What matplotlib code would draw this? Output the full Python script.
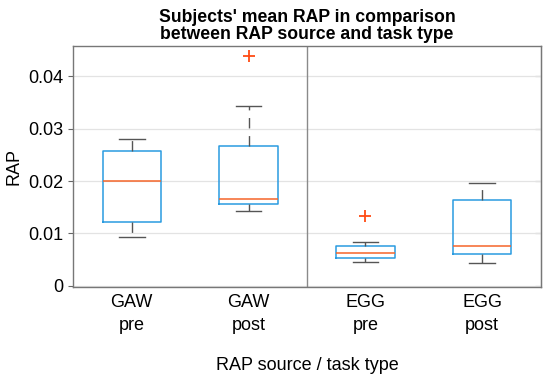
import matplotlib
matplotlib.use("Agg")
import matplotlib.pyplot as plt

plt.rcParams.update({"font.family": ["Liberation Sans", "DejaVu Sans"], "font.size": 13})

labels = ["GAW\npre", "GAW\npost", "EGG\npre", "EGG\npost"]
whis_low = [0.00926, 0.01436, 0.00448, 0.00429]
q1 = [0.01219, 0.01558, 0.00530, 0.00607]
medians = [0.0200, 0.01654, 0.00626, 0.00754]
q3 = [0.02572, 0.02668, 0.00766, 0.01646]
whis_high = [0.0280, 0.03426, 0.0083, 0.01966]
outliers = [[], [0.04383], [0.0134], []]
yticks = [0, 0.01, 0.02, 0.03, 0.04]
ytick_labels = ["0", "0.01", "0.02", "0.03", "0.04"]

stats = []
for i, lab in enumerate(labels):
    stats.append(dict(label=lab, whislo=whis_low[i], q1=q1[i], med=medians[i],
                      q3=q3[i], whishi=whis_high[i], fliers=outliers[i]))

fig = plt.figure(figsize=(5.5, 3.74), dpi=100)
ax = fig.add_axes([0.1333, 0.2334, 0.8497, 0.6446])

ax.grid(axis="y", color="#e3e3e3", linewidth=0.9)
ax.set_axisbelow(True)
ax.axvline(2.5, color="#8a8a8a", linewidth=1.0)

ax.bxp(stats, positions=[1, 2, 3, 4], widths=0.5, capwidths=0.22,
       boxprops=dict(color="#2a9be0", linewidth=1.1),
       medianprops=dict(color="#f5652a", linewidth=1.1),
       whiskerprops=dict(color="#555555", linewidth=1.0, linestyle=(0, (7.5, 5.5))),
       capprops=dict(color="#555555", linewidth=1.0),
       flierprops=dict(marker="+", markeredgecolor="#ff4b14", markersize=9,
                       markeredgewidth=1.3, linestyle="none"))

ax.set_xlim(0.5, 4.5)
ax.set_ylim(-0.0002, 0.0459)
ax.set_yticks(yticks)
ax.set_yticklabels(ytick_labels)
ax.tick_params(axis="y", direction="out", length=3.5, color="#666666", pad=4)
ax.tick_params(axis="x", length=0, pad=5)
for lab in ax.get_xticklabels():
    lab.set_linespacing(1.45)
for sp in ax.spines.values():
    sp.set_color("#777777")
    sp.set_linewidth(1.0)

# inward ticks on the right side, no labels
right = ax.secondary_yaxis("right")
right.set_yticks(yticks)
right.tick_params(direction="in", length=4, color="#666666", labelright=False)
right.spines["right"].set_color("#777777")

ax.set_ylabel("RAP", labelpad=4)
ax.set_xlabel("RAP source / task type", labelpad=17)
ax.set_title("Subjects' mean RAP in comparison\nbetween RAP source and task type",
             fontweight="bold", fontsize=12.7, linespacing=0.95, pad=5)

fig.savefig("out.png", dpi=100)
